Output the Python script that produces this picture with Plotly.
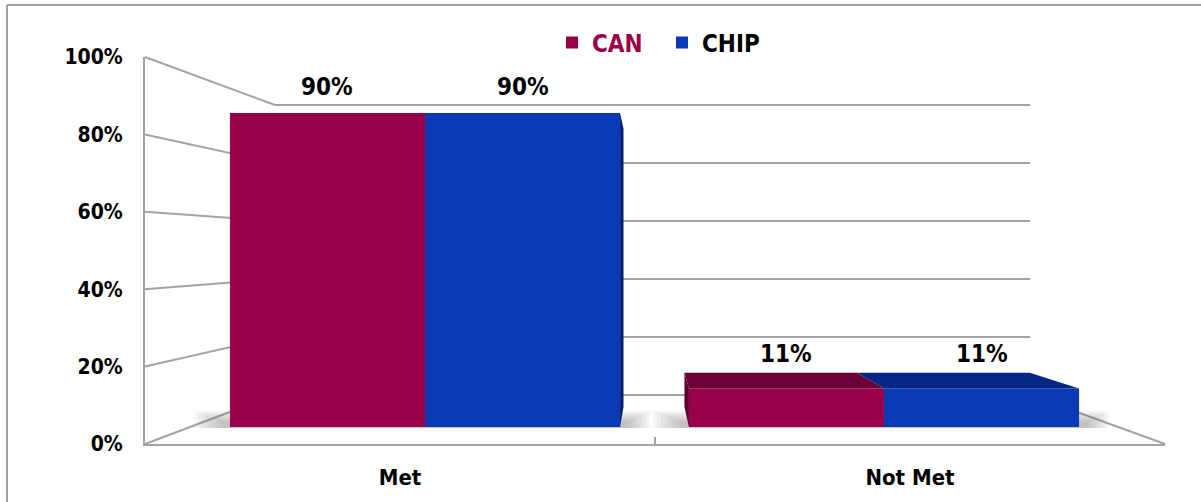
import plotly.graph_objects as go

# ---- data -------------------------------------------------------------
CATEGORIES = ["Met", "Not Met"]
SERIES = ["CAN", "CHIP"]
CAN_VALUES = [0.90, 0.11]
CHIP_VALUES = [0.90, 0.11]
VALUE_TICKS = [0, 0.2, 0.4, 0.6, 0.8, 1.0]

# ---- styling / geometry ----------------------------------------------
W, H = 1201, 502
FONT = "DejaVu Sans Condensed, DejaVu Sans, sans-serif"
GRID = "#a3a3a3"

FRONT_FRAME = dict(x=(145, 1165), y=(444, 57))   # pixel span of the front (axis) plane
BACK_WALL = dict(x=(275, 1030), y=(395, 105))    # pixel span of the back wall
BAR_PLANE = dict(x=(195.5, 1113.5), y=(427, 78)) # pixel span of the bars' front faces
VANISH = (650, 250)                              # perspective vanishing point
DEPTH = 0.115                                    # bar depth toward vanishing point
BARGAP = 0.15
WALL_PAD = 0.01                                  # keeps the 0% / 100% wall lines inside the range

FRONT_COLORS = {"CAN": "#98004a", "CHIP": "#0b39b4"}
TOP_COLORS = {"CAN": "#6c0035", "CHIP": "#062687"}
SIDE_COLORS = {"CAN": "#5e002e", "CHIP": "#041f72"}
LEGEND_TEXT = {"CAN": "#98004a", "CHIP": "#000000"}


def dom_x(span):
    return [span[0] / W, span[1] / W]


def dom_y(span, pad=0.0):
    y0, y1 = span
    ext = (y0 - y1) * pad
    return [1 - (y0 + ext) / H, 1 - (y1 - ext) / H]


def value_to_py(plane, v):
    y0, y1 = plane["y"]
    return y0 + (y1 - y0) * v


def to_paper(px, py):
    return px / W, 1 - py / H


def path(points):
    pts = [to_paper(*p) for p in points]
    return "M " + " L ".join(f"{x:.5f},{y:.5f}" for x, y in pts) + " Z"


def toward_vanish(px, py):
    return px + (VANISH[0] - px) * DEPTH, py + (VANISH[1] - py) * DEPTH


def bar_extent(cat_idx, series_idx):
    """Left/right pixel edges of a grouped bar on the bar plane."""
    x0, x1 = BAR_PLANE["x"]
    n = len(CATEGORIES)
    unit = (x1 - x0) / n
    group = 1 - BARGAP
    width = group / len(SERIES)
    left_u = cat_idx - group / 2 + series_idx * width
    to_px = lambda u: x0 + (u + 0.5) * unit
    return to_px(left_u), to_px(left_u + width)


series_values = {"CAN": CAN_VALUES, "CHIP": CHIP_VALUES}

fig = go.Figure()

# back wall subplot (x / y): gridlines only
fig.add_trace(go.Scatter(x=[0, 1], y=[0, 1], mode="markers", marker=dict(opacity=0),
                         xaxis="x", yaxis="y", hoverinfo="skip", showlegend=False))
# front frame subplot (x2 / y2): value axis and category axis
fig.add_trace(go.Scatter(x=CATEGORIES, y=[0, 0], mode="markers", marker=dict(opacity=0),
                         xaxis="x2", yaxis="y2", hoverinfo="skip", showlegend=False))
# bars (x3 / y3)
for name in SERIES:
    fig.add_trace(go.Bar(
        x=CATEGORIES, y=series_values[name],
        name=f"<span style='color:{LEGEND_TEXT[name]}'>{name}</span>",
        marker=dict(color=FRONT_COLORS[name], line=dict(width=0)),
        xaxis="x3", yaxis="y3", hoverinfo="skip",
    ))

shapes = []

# perspective lines joining front axis ticks to the back wall
fx0, fx1 = FRONT_FRAME["x"]
bx0, bx1 = BACK_WALL["x"]
for v in VALUE_TICKS:
    fy = value_to_py(FRONT_FRAME, v)
    by = value_to_py(BACK_WALL, v)
    x0p, y0p = to_paper(fx0, fy)
    x1p, y1p = to_paper(bx0, by)
    shapes.append(dict(type="line", xref="paper", yref="paper", x0=x0p, y0=y0p, x1=x1p, y1=y1p,
                       line=dict(color=GRID, width=2), layer="below"))
# right floor edge
x0p, y0p = to_paper(bx1, value_to_py(BACK_WALL, 0))
x1p, y1p = to_paper(fx1, value_to_py(FRONT_FRAME, 0))
shapes.append(dict(type="line", xref="paper", yref="paper", x0=x0p, y0=y0p, x1=x1p, y1=y1p,
                   line=dict(color=GRID, width=2), layer="below"))

# soft floor shadows beside each bar group
base_py = value_to_py(BAR_PLANE, 0)
for ci in range(len(CATEGORIES)):
    gl, _ = bar_extent(ci, 0)
    _, gr = bar_extent(ci, len(SERIES) - 1)
    for k in range(8):
        a, b = to_paper(gl - 36 + 4 * k, base_py - 16 + 1.5 * k)
        c, d = to_paper(gr + 30 - 3 * k, base_py + 1)
        shapes.append(dict(type="rect", xref="paper", yref="paper", x0=a, y0=d, x1=c, y1=b,
                           fillcolor="rgba(110,110,110,0.06)", line=dict(width=0), layer="below"))

# visible side and top faces of every bar
for ci in range(len(CATEGORIES)):
    for si, name in enumerate(SERIES):
        xl, xr = bar_extent(ci, si)
        yt = value_to_py(BAR_PLANE, series_values[name][ci])
        yb = base_py
        if yt > VANISH[1]:
            pts = [(xl, yt), (xr, yt), toward_vanish(xr, yt), toward_vanish(xl, yt)]
            shapes.append(dict(type="path", xref="paper", yref="paper", path=path(pts),
                               fillcolor=TOP_COLORS[name], line=dict(width=0), layer="above"))
        if si == len(SERIES) - 1 and xr < VANISH[0]:
            pts = [(xr, yt), (xr, yb), toward_vanish(xr, yb), toward_vanish(xr, yt)]
            shapes.append(dict(type="path", xref="paper", yref="paper", path=path(pts),
                               fillcolor=SIDE_COLORS[name], line=dict(width=0), layer="above"))
        if si == 0 and xl > VANISH[0]:
            pts = [(xl, yt), (xl, yb), toward_vanish(xl, yb), toward_vanish(xl, yt)]
            shapes.append(dict(type="path", xref="paper", yref="paper", path=path(pts),
                               fillcolor=SIDE_COLORS[name], line=dict(width=0), layer="above"))

# outer frame of the chart
shapes.append(dict(type="line", xref="paper", yref="paper", x0=7 / W, x1=7 / W, y0=0, y1=1 - 5 / H,
                   line=dict(color="#a0a0a0", width=2)))
shapes.append(dict(type="line", xref="paper", yref="paper", x0=7 / W, x1=1, y0=1 - 5 / H, y1=1 - 5 / H,
                   line=dict(color="#a0a0a0", width=2)))

# value labels
annotations = []
for ci, cat in enumerate(CATEGORIES):
    for si, name in enumerate(SERIES):
        v = series_values[name][ci]
        xl, xr = bar_extent(ci, si)
        yt = value_to_py(BAR_PLANE, v)
        lift = 26 + (0.55 * (yt - toward_vanish(xl, yt)[1]) if yt > VANISH[1] else 0)
        xp, yp = to_paper((xl + xr) / 2, yt - lift)
        annotations.append(dict(x=xp, y=yp, xref="paper", yref="paper", text=f"{v:.0%}",
                                showarrow=False, xanchor="center", yanchor="middle",
                                font=dict(family=FONT, size=24, color="#000000", weight="bold")))

fig.update_layout(
    width=W, height=H,
    margin=dict(l=0, r=0, t=0, b=0, pad=0, autoexpand=False),
    paper_bgcolor="white", plot_bgcolor="rgba(0,0,0,0)",
    barmode="group", bargap=BARGAP, bargroupgap=0,
    shapes=shapes, annotations=annotations,
    showlegend=True,
    legend=dict(orientation="h", x=552 / W, y=1 - 43 / H, xanchor="left", yanchor="middle",
                font=dict(family=FONT, size=24, color="#000000", weight="bold"),
                entrywidth=65, bgcolor="rgba(0,0,0,0)", itemclick=False, itemdoubleclick=False),
    # back wall
    xaxis=dict(domain=dom_x(BACK_WALL["x"]), range=[0, 1], visible=False, fixedrange=True,
               automargin=False),
    yaxis=dict(domain=dom_y(BACK_WALL["y"], WALL_PAD), range=[-WALL_PAD, 1 + WALL_PAD],
               tickvals=VALUE_TICKS, showgrid=True, gridcolor=GRID, gridwidth=2, zeroline=False,
               showticklabels=False, showline=False, ticks="", fixedrange=True, automargin=False),
    # front frame
    xaxis2=dict(domain=dom_x(FRONT_FRAME["x"]), type="category", categoryarray=CATEGORIES,
                range=[-0.5, len(CATEGORIES) - 0.5], anchor="y2", showline=True, linecolor=GRID,
                linewidth=2, ticks="inside", tickson="boundaries", ticklen=7, tickcolor=GRID,
                tickwidth=2, showgrid=False, ticklabelstandoff=13, automargin=False,
                tickfont=dict(family=FONT, size=22, color="#000000", weight="bold"), fixedrange=True),
    yaxis2=dict(domain=dom_y(FRONT_FRAME["y"]), range=[0, 1], anchor="x2", tickvals=VALUE_TICKS,
                tickformat=".0%", showline=True, linecolor=GRID, linewidth=2, ticks="",
                showgrid=False, zeroline=False, ticklabelstandoff=16, automargin=False,
                tickfont=dict(family=FONT, size=21, color="#000000", weight="bold"), fixedrange=True),
    # bars
    xaxis3=dict(domain=dom_x(BAR_PLANE["x"]), type="category", categoryarray=CATEGORIES,
                range=[-0.5, len(CATEGORIES) - 0.5], anchor="y3", visible=False, fixedrange=True,
                automargin=False),
    yaxis3=dict(domain=dom_y(BAR_PLANE["y"]), range=[0, 1], anchor="x3", visible=False,
                fixedrange=True, automargin=False),
)

fig.write_html("out.html")
